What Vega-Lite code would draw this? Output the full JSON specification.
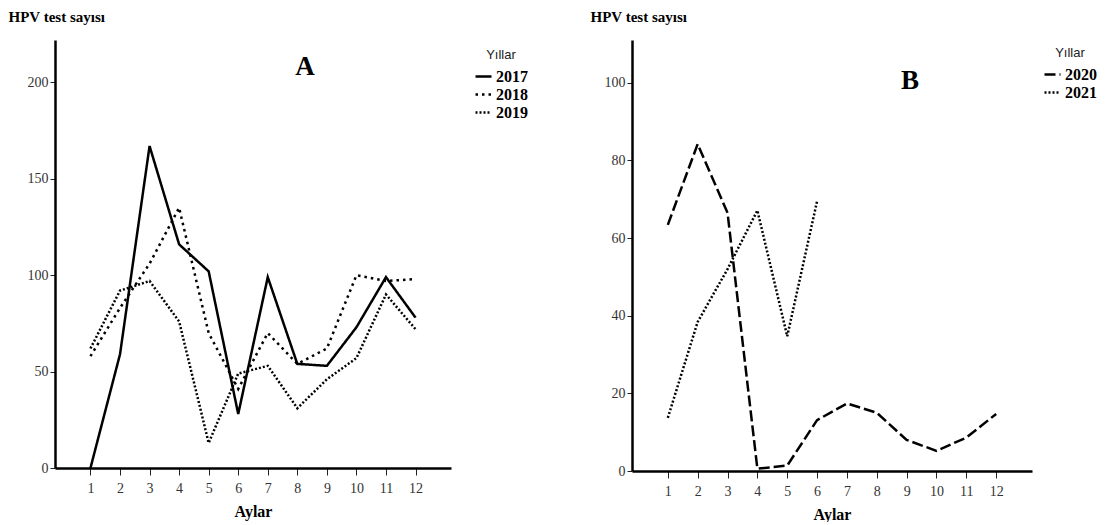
{
  "$schema": "https://vega.github.io/schema/vega-lite/v6.json",
  "background": "white",
  "padding": {"left": 8, "top": 9, "right": 0, "bottom": 0},
  "config": {
    "view": {"stroke": null},
    "axis": {
      "grid": false,
      "domainColor": "black",
      "domainWidth": 2.5,
      "tickColor": "#222",
      "tickWidth": 1,
      "labelFont": "Liberation Serif",
      "labelFontSize": 14,
      "labelColor": "#333",
      "labelOverlap": false,
      "titleFont": "Liberation Serif",
      "titleFontWeight": "bold",
      "titleFontSize": 15,
      "titleColor": "black"
    },
    "legend": {
      "orient": "none",
      "titleFont": "Liberation Sans",
      "titleFontWeight": "normal",
      "titleFontSize": 13,
      "titleColor": "#222",
      "titleAnchor": "middle",
      "titlePadding": 5,
      "labelFont": "Liberation Serif",
      "labelFontWeight": "bold",
      "labelFontSize": 16,
      "labelColor": "black",
      "labelOffset": 3,
      "symbolType": "stroke",
      "symbolSize": 256,
      "symbolStrokeWidth": 2.5,
      "symbolStrokeColor": "black",
      "padding": 0,
      "rowPadding": 0
    }
  },
  "datasets": {
    "a": [
      {"Ay": 1, "HPV": 0, "Yil": "2017"},
      {"Ay": 2, "HPV": 59, "Yil": "2017"},
      {"Ay": 3, "HPV": 167, "Yil": "2017"},
      {"Ay": 4, "HPV": 116, "Yil": "2017"},
      {"Ay": 5, "HPV": 102, "Yil": "2017"},
      {"Ay": 6, "HPV": 28, "Yil": "2017"},
      {"Ay": 7, "HPV": 99, "Yil": "2017"},
      {"Ay": 8, "HPV": 54, "Yil": "2017"},
      {"Ay": 9, "HPV": 53, "Yil": "2017"},
      {"Ay": 10, "HPV": 73, "Yil": "2017"},
      {"Ay": 11, "HPV": 99, "Yil": "2017"},
      {"Ay": 12, "HPV": 78, "Yil": "2017"},
      {"Ay": 1, "HPV": 58, "Yil": "2018"},
      {"Ay": 2, "HPV": 83, "Yil": "2018"},
      {"Ay": 3, "HPV": 106, "Yil": "2018"},
      {"Ay": 4, "HPV": 135, "Yil": "2018"},
      {"Ay": 5, "HPV": 70, "Yil": "2018"},
      {"Ay": 6, "HPV": 41, "Yil": "2018"},
      {"Ay": 7, "HPV": 70, "Yil": "2018"},
      {"Ay": 8, "HPV": 54, "Yil": "2018"},
      {"Ay": 9, "HPV": 62, "Yil": "2018"},
      {"Ay": 10, "HPV": 100, "Yil": "2018"},
      {"Ay": 11, "HPV": 97, "Yil": "2018"},
      {"Ay": 12, "HPV": 98, "Yil": "2018"},
      {"Ay": 1, "HPV": 62, "Yil": "2019"},
      {"Ay": 2, "HPV": 92, "Yil": "2019"},
      {"Ay": 3, "HPV": 97, "Yil": "2019"},
      {"Ay": 4, "HPV": 76, "Yil": "2019"},
      {"Ay": 5, "HPV": 13, "Yil": "2019"},
      {"Ay": 6, "HPV": 49, "Yil": "2019"},
      {"Ay": 7, "HPV": 53, "Yil": "2019"},
      {"Ay": 8, "HPV": 31, "Yil": "2019"},
      {"Ay": 9, "HPV": 46, "Yil": "2019"},
      {"Ay": 10, "HPV": 57, "Yil": "2019"},
      {"Ay": 11, "HPV": 90, "Yil": "2019"},
      {"Ay": 12, "HPV": 72, "Yil": "2019"}
    ],
    "b": [
      {"Ay": 1, "HPV": 63.4, "Yil": "2020"},
      {"Ay": 2, "HPV": 84.2, "Yil": "2020"},
      {"Ay": 3, "HPV": 66.5, "Yil": "2020"},
      {"Ay": 4, "HPV": 0.6, "Yil": "2020"},
      {"Ay": 5, "HPV": 1.4, "Yil": "2020"},
      {"Ay": 6, "HPV": 13.1, "Yil": "2020"},
      {"Ay": 7, "HPV": 17.4, "Yil": "2020"},
      {"Ay": 8, "HPV": 15, "Yil": "2020"},
      {"Ay": 9, "HPV": 8, "Yil": "2020"},
      {"Ay": 10, "HPV": 5.2, "Yil": "2020"},
      {"Ay": 11, "HPV": 8.6, "Yil": "2020"},
      {"Ay": 12, "HPV": 14.7, "Yil": "2020"},
      {"Ay": 1, "HPV": 13.7, "Yil": "2021"},
      {"Ay": 2, "HPV": 38.4, "Yil": "2021"},
      {"Ay": 3, "HPV": 52, "Yil": "2021"},
      {"Ay": 4, "HPV": 67.1, "Yil": "2021"},
      {"Ay": 5, "HPV": 34.7, "Yil": "2021"},
      {"Ay": 6, "HPV": 69.5, "Yil": "2021"}
    ],
    "labelA": [{"x": 8.26, "y": 204, "t": "A"}],
    "labelB": [{"x": 9.11, "y": 98.5, "t": "B"}]
  },
  "spacing": 62,
  "resolve": {
    "scale": {"x": "independent", "y": "independent", "strokeDash": "independent"},
    "legend": {"strokeDash": "independent"}
  },
  "hconcat": [
    {
      "width": 396,
      "height": 428,
      "layer": [
        {
          "data": {"name": "a"},
          "mark": {"type": "line", "strokeWidth": 2.5, "color": "black"},
          "encoding": {
            "x": {
              "field": "Ay", "type": "quantitative",
              "scale": {"domain": [-0.2, 13.2], "nice": false, "zero": false},
              "axis": {"values": [1,2,3,4,5,6,7,8,9,10,11,12], "tickCount": 12, "labelOverlap": false, "title": "Aylar", "tickSize": 7, "labelPadding": 6, "titleFontSize": 16, "titlePadding": 8, "labelFlush": false}
            },
            "y": {
              "field": "HPV", "type": "quantitative",
              "scale": {"domain": [0, 222], "nice": false},
              "axis": {"values": [0,50,100,150,200], "tickCount": 5, "title": "HPV test sayısı", "titleAngle": 0, "titleX": -47, "titleY": -19, "titleAlign": "left", "titleBaseline": "alphabetic", "tickSize": 5, "labelPadding": 2}
            },
            "strokeDash": {
              "field": "Yil", "type": "nominal",
              "scale": {"domain": ["2017", "2018", "2019"], "range": [[1, 0], [2.5, 4], [2, 2]]},
              "legend": {"title": "Yıllar", "legendX": 419, "legendY": 9}
            }
          }
        },
        {
          "data": {"name": "labelA"},
          "mark": {"type": "text", "font": "Liberation Serif", "fontWeight": "bold", "fontSize": 27, "baseline": "alphabetic", "color": "black"},
          "encoding": {
            "x": {"field": "x", "type": "quantitative"},
            "y": {"field": "y", "type": "quantitative"},
            "text": {"field": "t"}
          }
        }
      ]
    },
    {
      "width": 400,
      "height": 431,
      "layer": [
        {
          "data": {"name": "b"},
          "mark": {"type": "line", "strokeWidth": 2.5, "color": "black"},
          "encoding": {
            "x": {
              "field": "Ay", "type": "quantitative",
              "scale": {"domain": [-0.2, 13.2], "nice": false, "zero": false},
              "axis": {"values": [1,2,3,4,5,6,7,8,9,10,11,12], "tickCount": 12, "labelOverlap": false, "title": "Aylar", "tickSize": 7, "labelPadding": 6, "titleFontSize": 16, "titlePadding": 8, "labelFlush": false}
            },
            "y": {
              "field": "HPV", "type": "quantitative",
              "scale": {"domain": [0, 111], "nice": false},
              "axis": {"values": [0,20,40,60,80,100], "tickCount": 6, "title": "HPV test sayısı", "titleAngle": 0, "titleX": -42, "titleY": -19, "titleAlign": "left", "titleBaseline": "alphabetic", "tickSize": 5, "labelPadding": 2}
            },
            "strokeDash": {
              "field": "Yil", "type": "nominal",
              "scale": {"domain": ["2020", "2021"], "range": [[11, 4], [2, 2]]},
              "legend": {"title": "Yıllar", "legendX": 411, "legendY": 7}
            }
          }
        },
        {
          "data": {"name": "labelB"},
          "mark": {"type": "text", "font": "Liberation Serif", "fontWeight": "bold", "fontSize": 27, "baseline": "alphabetic", "color": "black"},
          "encoding": {
            "x": {"field": "x", "type": "quantitative"},
            "y": {"field": "y", "type": "quantitative"},
            "text": {"field": "t"}
          }
        }
      ]
    }
  ]
}
